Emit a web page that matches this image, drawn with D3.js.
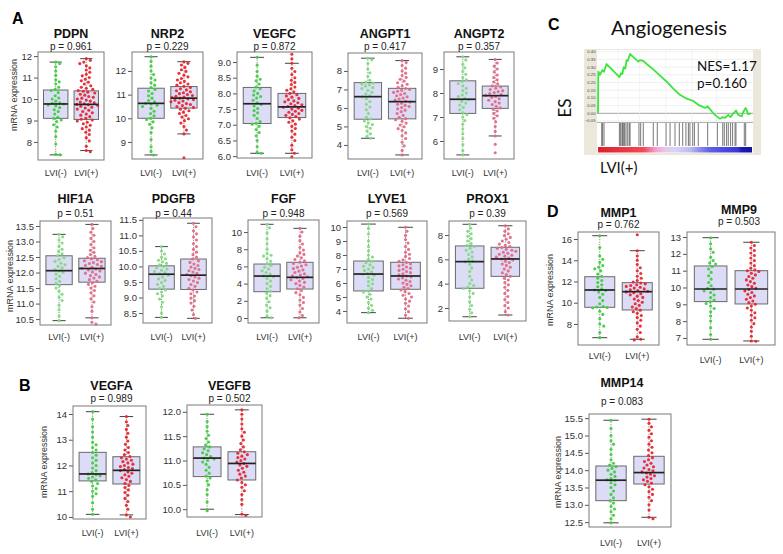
<!DOCTYPE html>
<html><head><meta charset="utf-8">
<script src="https://cdn.jsdelivr.net/npm/d3@7"></script>
<style>body{margin:0;background:#fff}svg{display:block}</style>
</head><body>
<svg id="c" width="783" height="554"></svg>
<script>
// ---------------- DATA ----------------
const genes = ["PDPN","NRP2","VEGFC","ANGPT1","ANGPT2","HIF1A","PDGFB","FGF","LYVE1","PROX1","VEGFA","VEGFB","MMP1","MMP9","MMP14"];
const pValues = ["0.961","0.229","0.872","0.417","0.357","0.51","0.44","0.948","0.569","0.39","0.989","0.502","0.762","0.503","0.083"];
const groupLabels = ["LVI(-)","LVI(+)"];
const yDomains = [[7.16,12.19],[8.28,12.80],[5.94,9.32],[3.24,8.97],[5.25,9.71],[10.31,13.66],[8.18,11.56],[-0.58,11.4],[3.14,10.43],[0.93,9.15],[9.92,14.31],[9.84,12.14],[6.02,16.66],[6.58,13.3],[12.36,15.62]];
const yTicks = [[8,9,10,11,12],[9,10,11,12],[6.0,6.5,7.0,7.5,8.0,8.5,9.0],[4,5,6,7,8],[6,7,8,9],[10.5,11.0,11.5,12.0,12.5,13.0,13.5],[8.5,9.0,9.5,10.0,10.5,11.0,11.5],[0,2,4,6,8,10],[4,5,6,7,8,9,10],[2,4,6,8],[10,11,12,13,14],[10.0,10.5,11.0,11.5,12.0],[8,10,12,14,16],[7,8,9,10,11,12,13],[12.5,13.0,13.5,14.0,14.5,15.0,15.5]];
const tickDecimals = [0,0,1,0,0,1,1,0,0,0,0,1,0,0,1];
// box stats: [lower whisker, Q1, median, Q3, upper whisker]
const boxNeg = [[7.4,9.1,9.77,10.42,11.72],[8.45,10.0,10.63,11.27,12.6],[6.09,7.04,7.67,8.19,9.15],[4.36,5.39,6.61,7.37,8.69],[5.42,7.15,7.74,8.51,9.51],[10.45,11.61,12.06,12.54,13.23],[8.36,9.27,9.75,10.02,10.64],[0.03,3.06,4.88,6.28,10.9],[3.88,5.43,6.64,7.57,10.21],[1.28,3.62,5.81,7.1,8.88],[10.1,11.4,11.67,12.51,14.09],[10.0,10.67,11.05,11.28,11.95],[6.71,9.57,11.2,12.45,16.31],[6.92,9.16,9.91,11.28,12.96],[12.48,13.12,13.71,14.12,15.44]];
const boxPos = [[7.6,9.05,9.75,10.38,11.88],[9.34,10.43,10.85,11.34,12.39],[6.09,7.23,7.57,8.0,8.96],[3.46,5.41,6.34,7.06,8.56],[6.21,7.36,7.89,8.29,9.4],[10.54,11.69,12.13,12.46,13.55],[8.33,9.26,9.72,10.24,11.39],[0.03,3.37,4.73,6.48,10.43],[3.48,5.55,6.5,7.48,9.98],[1.42,4.6,6.03,6.99,8.76],[10.08,11.28,11.81,12.34,13.9],[9.89,10.6,10.94,11.18,12.04],[6.56,9.32,11.04,11.89,14.9],[6.82,9.02,9.91,11.0,12.69],[12.64,13.6,13.93,14.4,15.47]];
const ptsNeg = [
[7.4,7.42,7.9,8.25,8.5,8.7,8.8,8.95,9.02,9.1,9.15,9.3,9.42,9.5,9.6,9.68,9.72,9.77,9.8,9.82,9.9,10.0,10.05,10.15,10.3,10.4,10.45,10.55,10.7,10.8,10.9,11.1,11.3,11.5,11.65,11.72],
[8.45,8.6,8.8,9.1,9.4,9.6,9.75,9.85,9.95,10.0,10.1,10.2,10.3,10.42,10.5,10.55,10.6,10.63,10.7,10.75,10.85,10.95,11.05,11.15,11.22,11.3,11.4,11.5,11.62,11.7,11.85,12.0,12.2,12.4,12.6],
[6.09,6.12,6.3,6.5,6.65,6.75,6.85,6.95,7.02,7.05,7.1,7.2,7.3,7.38,7.45,7.52,7.6,7.65,7.7,7.78,7.85,7.9,7.95,8.0,8.08,8.15,8.2,8.3,8.4,8.45,8.55,8.7,8.9,9.15],
[4.36,4.45,4.6,4.75,4.9,5.0,5.1,5.2,5.3,5.4,5.5,5.7,5.9,6.05,6.2,6.35,6.5,6.6,6.65,6.75,6.85,6.95,7.05,7.1,7.18,7.25,7.3,7.35,7.4,7.5,7.7,7.9,8.1,8.4,8.6,8.69],
[5.42,5.6,5.85,6.1,6.3,6.5,6.7,6.85,7.0,7.1,7.18,7.3,7.4,7.5,7.58,7.65,7.72,7.78,7.85,7.92,8.0,8.1,8.2,8.3,8.4,8.48,8.55,8.65,8.78,8.9,9.05,9.2,9.38,9.51],
[10.45,10.6,10.8,10.95,11.1,11.2,11.3,11.4,11.5,11.58,11.65,11.72,11.8,11.88,11.95,12.0,12.05,12.1,12.15,12.2,12.25,12.3,12.36,12.42,12.48,12.55,12.6,12.68,12.75,12.85,12.95,13.05,13.15,13.23],
[8.36,8.5,8.7,8.85,8.95,9.05,9.12,9.18,9.24,9.3,9.36,9.42,9.48,9.55,9.6,9.66,9.72,9.76,9.8,9.84,9.88,9.92,9.96,10.0,10.05,10.1,10.15,10.2,10.25,10.3,10.4,10.5,10.64],
[0.03,0.2,0.8,1.2,1.5,1.9,2.3,2.6,2.9,3.1,3.4,3.7,4.0,4.3,4.6,4.8,4.9,5.1,5.3,5.5,5.7,5.9,6.1,6.3,6.6,6.9,7.2,7.3,7.5,8.0,8.6,9.2,9.9,10.5,10.9],
[3.88,4.05,4.2,4.4,4.6,4.85,5.0,5.2,5.35,5.45,5.6,5.8,5.95,6.1,6.25,6.4,6.55,6.62,6.7,6.8,6.9,7.0,7.1,7.2,7.3,7.45,7.55,7.7,7.85,8.0,8.3,8.6,9.0,9.5,9.9,10.21],
[1.28,1.6,1.9,2.2,2.5,2.9,3.2,3.4,3.6,3.7,3.85,4.0,4.3,4.6,5.0,5.3,5.6,5.8,5.85,6.0,6.2,6.4,6.6,6.75,6.9,7.05,7.15,7.3,7.5,7.7,7.9,8.1,8.3,8.55,8.88],
[10.1,10.3,10.55,10.8,10.9,11.0,11.1,11.2,11.3,11.38,11.44,11.5,11.55,11.6,11.64,11.67,11.72,11.8,11.9,12.0,12.1,12.2,12.3,12.4,12.5,12.6,12.7,12.8,12.9,13.1,13.3,13.5,13.8,14.09],
[9.97,10.15,10.3,10.4,10.5,10.58,10.64,10.68,10.74,10.8,10.86,10.92,10.97,11.0,11.03,11.05,11.08,11.12,11.16,11.2,11.24,11.28,11.32,11.38,11.45,11.52,11.6,11.7,11.8,11.95],
[6.71,7.2,7.8,8.0,8.5,8.9,9.2,9.5,9.55,9.6,9.65,9.9,10.2,10.5,10.8,11.0,11.15,11.2,11.3,11.5,11.7,11.9,12.1,12.3,12.5,12.7,13.0,13.2,13.35,13.5,13.8,14.1,14.4,15.2,16.31],
[6.92,7.2,7.6,8.0,8.3,8.55,8.75,8.9,9.05,9.15,9.25,9.4,9.55,9.7,9.8,9.9,9.95,10.1,10.3,10.5,10.7,10.9,11.1,11.25,11.4,11.45,11.6,11.8,12.1,12.3,12.6,12.96],
[12.48,12.6,12.7,12.8,12.88,12.95,13.05,13.12,13.2,13.3,13.4,13.5,13.58,13.64,13.7,13.72,13.76,13.82,13.88,13.95,14.0,14.05,14.1,14.15,14.2,14.3,14.45,14.6,14.75,14.85,15.0,15.2,15.44]
];
const ptsPos = [
[7.55,7.6,7.8,8.05,8.2,8.35,8.45,8.55,8.62,8.7,8.78,8.85,8.92,8.98,9.02,9.06,9.1,9.18,9.25,9.3,9.36,9.42,9.48,9.53,9.58,9.62,9.66,9.7,9.73,9.75,9.78,9.82,9.86,9.9,9.95,10.0,10.04,10.08,10.12,10.18,10.22,10.28,10.32,10.36,10.4,10.45,10.5,10.55,10.62,10.7,10.78,10.85,10.92,11.0,11.08,11.15,11.25,11.35,11.45,11.55,11.65,11.72,11.8,11.88],
[8.33,9.34,9.5,9.65,9.8,9.9,9.98,10.05,10.12,10.2,10.26,10.32,10.38,10.42,10.46,10.5,10.54,10.58,10.62,10.66,10.7,10.73,10.76,10.79,10.82,10.85,10.88,10.9,10.93,10.96,11.0,11.04,11.08,11.12,11.16,11.2,11.25,11.3,11.35,11.4,11.45,11.5,11.56,11.62,11.68,11.75,11.82,11.9,11.98,12.05,12.15,12.25,12.32,12.39],
[5.98,6.09,6.2,6.35,6.5,6.6,6.7,6.8,6.88,6.95,7.02,7.08,7.13,7.18,7.22,7.26,7.3,7.33,7.36,7.4,7.43,7.46,7.5,7.53,7.56,7.58,7.61,7.64,7.67,7.7,7.73,7.76,7.8,7.84,7.88,7.92,7.96,8.0,8.05,8.1,8.15,8.2,8.28,8.35,8.42,8.5,8.6,8.7,8.8,8.96,9.1,9.25],
[3.46,3.7,3.95,4.15,4.35,4.5,4.65,4.78,4.88,4.98,5.08,5.18,5.28,5.36,5.42,5.5,5.6,5.7,5.8,5.88,5.95,6.02,6.08,6.14,6.2,6.26,6.32,6.36,6.42,6.48,6.54,6.6,6.66,6.72,6.78,6.84,6.9,6.95,7.0,7.05,7.12,7.2,7.28,7.36,7.45,7.55,7.65,7.75,7.88,8.0,8.15,8.3,8.45,8.56],
[5.51,5.86,6.21,6.4,6.6,6.8,6.95,7.05,7.15,7.25,7.32,7.38,7.45,7.52,7.58,7.64,7.7,7.76,7.82,7.86,7.9,7.94,7.98,8.02,8.06,8.1,8.15,8.2,8.25,8.3,8.38,8.46,8.55,8.65,8.75,8.88,9.0,9.12,9.25,9.4],
[10.34,10.4,10.54,10.75,10.9,11.05,11.15,11.25,11.35,11.42,11.5,11.56,11.62,11.67,11.72,11.77,11.82,11.86,11.9,11.94,11.98,12.02,12.05,12.08,12.11,12.14,12.17,12.2,12.23,12.26,12.29,12.32,12.35,12.38,12.41,12.44,12.48,12.52,12.58,12.65,12.72,12.8,12.9,13.0,13.1,13.2,13.3,13.42,13.55],
[8.33,8.45,8.6,8.72,8.82,8.9,8.98,9.05,9.12,9.18,9.24,9.3,9.36,9.42,9.48,9.53,9.58,9.62,9.66,9.7,9.74,9.78,9.82,9.86,9.9,9.94,9.98,10.03,10.08,10.13,10.18,10.24,10.3,10.38,10.46,10.55,10.64,10.74,10.85,10.95,11.05,11.15,11.28,11.39],
[0.03,0.3,0.7,1.1,1.5,1.8,2.1,2.4,2.7,2.95,3.2,3.4,3.6,3.8,4.0,4.15,4.3,4.45,4.6,4.7,4.8,4.9,5.0,5.15,5.3,5.45,5.6,5.75,5.9,6.05,6.2,6.35,6.5,6.65,6.8,7.0,7.2,7.4,7.6,7.9,8.2,8.6,9.0,9.5,10.0,10.43],
[3.48,3.7,3.95,4.15,4.35,4.55,4.7,4.85,5.0,5.12,5.25,5.38,5.5,5.6,5.7,5.8,5.9,6.0,6.1,6.2,6.28,6.36,6.44,6.5,6.58,6.66,6.74,6.82,6.9,6.98,7.06,7.14,7.22,7.3,7.38,7.46,7.55,7.65,7.75,7.9,8.05,8.2,8.4,8.6,8.85,9.1,9.4,9.7,9.98],
[1.42,1.7,2.0,2.2,2.45,2.7,2.95,3.2,3.45,3.7,3.9,4.1,4.3,4.45,4.6,4.75,4.9,5.05,5.2,5.35,5.5,5.62,5.74,5.85,5.95,6.03,6.1,6.18,6.26,6.34,6.42,6.5,6.58,6.66,6.74,6.82,6.9,6.97,7.05,7.15,7.25,7.38,7.5,7.65,7.8,7.95,8.1,8.3,8.5,8.76],
[10.0,10.08,10.3,10.45,10.6,10.72,10.84,10.95,11.05,11.14,11.22,11.3,11.38,11.45,11.52,11.58,11.64,11.7,11.75,11.8,11.84,11.88,11.92,11.96,12.0,12.05,12.1,12.15,12.2,12.25,12.3,12.35,12.42,12.5,12.6,12.7,12.82,12.95,13.1,13.25,13.4,13.55,13.7,13.9],
[9.87,9.9,10.1,10.2,10.3,10.38,10.45,10.5,10.55,10.6,10.64,10.68,10.72,10.76,10.8,10.84,10.88,10.91,10.94,10.97,11.0,11.03,11.06,11.09,11.12,11.15,11.18,11.22,11.28,11.35,11.42,11.5,11.58,11.65,11.75,11.85,11.95,12.04],
[6.5,6.56,6.8,7.2,7.5,7.8,8.1,8.35,8.6,8.8,9.0,9.15,9.3,9.45,9.6,9.75,9.9,10.05,10.2,10.35,10.5,10.62,10.74,10.85,10.95,11.02,11.08,11.15,11.22,11.3,11.38,11.46,11.54,11.62,11.7,11.78,11.86,11.95,12.1,12.3,12.5,12.75,13.0,13.3,13.6,14.0,14.4,14.9,16.4],
[6.8,6.82,7.1,7.4,7.65,7.85,8.05,8.2,8.35,8.5,8.65,8.78,8.9,9.0,9.1,9.2,9.3,9.4,9.5,9.6,9.7,9.8,9.88,9.95,10.05,10.15,10.25,10.35,10.45,10.55,10.65,10.75,10.85,10.95,11.0,11.05,11.15,11.3,11.45,11.6,11.75,11.9,12.05,12.2,12.35,12.5,12.69],
[12.6,12.64,12.85,13.0,13.12,13.22,13.3,13.38,13.45,13.52,13.58,13.63,13.68,13.72,13.76,13.8,13.84,13.88,13.92,13.95,13.98,14.02,14.06,14.1,14.15,14.2,14.25,14.3,14.36,14.42,14.5,14.58,14.66,14.75,14.85,14.95,15.05,15.15,15.25,15.35,15.47]
];
// GSEA panel C
const gseaTitle = "Angiogenesis";
const gseaNES = "NES=1.17";
const gseaP = "p=0.160";
const esTicks = [0.40,0.35,0.30,0.25,0.20,0.15,0.10,0.05,0.00,-0.05];
const esRank = [0,0.2,1.3,2.8,3.9,5.6,13.9,14.9,15.8,16.7,17.7,18.6,19.3,20.8,22.9,26.2,27.3,29.4,31.6,35.9,40.3,44.6,48.9,53.2,57.6,61.9,65.1,69.5,71.2,74.9,77.1,79.2,81,82.5,84.6,86.1,87.9,89.6,91.1,93.3,94.4,95.9,97.6,99.4];
const esValue = [0.0,0.27,0.25,0.28,0.27,0.32,0.235,0.26,0.255,0.30,0.29,0.345,0.34,0.385,0.365,0.335,0.345,0.34,0.32,0.285,0.245,0.205,0.16,0.12,0.095,0.08,0.055,0.035,0.045,0.0,-0.02,-0.035,-0.025,-0.03,-0.01,-0.025,0.0,0.018,-0.01,-0.02,0.01,0.035,-0.005,0.0];
const hitRanks = [2.4,3.0,3.9,13.9,14.7,15.6,16.0,16.7,17.3,18.2,19.3,20.3,20.8,26.6,27.7,29.4,35.9,38.5,44.2,46.8,50,52.8,55,57.1,58.7,59.7,61.5,62.6,65.1,71.2,77.5,81,82,83.5,84.6,86.1,87.4,89,89.6,95,95.9];

// ---------------- LAYOUT ----------------
const F = '"Liberation Sans", Arial, Helvetica, sans-serif';
const FC = 'Lato, "Open Sans", sans-serif';
const svg = d3.select('#c');
svg.append('rect').attr('width',783).attr('height',554).attr('fill','#fff');

const L = [
 {f:[38,104,52,160], t:38, p:50, xl:176, ylab:[15,95], soft:0, tx:0},
 {f:[132,203,52,159], t:38, p:50, xl:176, soft:0, tx:0},
 {f:[237,312,52,158], t:38, p:50, xl:176, soft:0, tx:0},
 {f:[348,422,53,159], t:38, p:50, xl:176, soft:1, tx:0},
 {f:[444,514,52,159], t:38, p:50, xl:176, soft:1, tx:0},
 {f:[40,111,221,325], t:203, p:217, xl:340, ylab:[11,276], soft:1, tx:0},
 {f:[143,212,218,323], t:203, p:217, xl:340, soft:1, tx:-4},
 {f:[248,319,220,323], t:203, p:217, xl:340, soft:1, tx:0},
 {f:[347,427,221,323], t:203, p:217, xl:340, soft:1, tx:0},
 {f:[449,526,221,321], t:203, p:217, xl:340, soft:1, tx:0},
 {f:[73,146,406,519], t:390, p:402, xl:536, ylab:[45,462], soft:0, tx:2},
 {f:[187,262,405,517], t:390, p:402, xl:536, soft:0, tx:5},
 {f:[578,659,232,345], t:217, p:228, xl:359, ylab:[551,290], soft:0, tx:0},
 {f:[687,775,232,345], t:214, p:225, xl:363, soft:0, tx:8},
 {f:[589,671,414,527], t:387, p:405, xl:546, ylab:[559,472], soft:0, tx:-8}
];

const R = 1.55;
function swarm(vals, cx, y, r){
  const pts = vals.map(v=>({v, py:y(v)})).sort((a,b)=>a.py-b.py);
  const placed = [];
  const d = 2*r + 1.0;
  pts.forEach(p=>{
    let off = 0;
    for(let k=0;k<300;k++){
      const cand = k===0?0:(k%2===1? (Math.ceil(k/2))*0.5 : -(k/2)*0.5);
      let ok = true;
      for(const q of placed){
        const dy = q.py-p.py; if(Math.abs(dy)>=d) continue;
        const dx = q.dx-cand;
        if(dx*dx+dy*dy < d*d){ok=false;break;}
      }
      if(ok){off=cand;break;}
    }
    p.dx=off; placed.push(p);
  });
  return placed.map(p=>({x:cx+p.dx, y:p.py}));
}

genes.forEach((gname,i)=>{
  const lay = L[i];
  const [x0,x1,y0,y1] = lay.f;
  const g = svg.append('g');
  const x = d3.scaleLinear().domain([0.42,2.58]).range([x0,x1]);
  const y = d3.scaleLinear().domain(yDomains[i]).range([y1,y0]);
  const cols = lay.soft ? ['#7edb7e','#e36a86'] : ['#3fcf3f','#e8262e'];
  const fmt = d3.format(tickDecimals[i] ? '.1f' : 'd');
  const ax = g.append('g').attr('transform',`translate(${x0},0)`)
    .call(d3.axisLeft(y).tickValues(yTicks[i]).tickSize(4).tickPadding(2).tickFormat(fmt));
  ax.select('.domain').remove();
  ax.selectAll('line').attr('stroke','#555');
  ax.selectAll('text').attr('font-family',F).attr('font-size',9.5).attr('fill','#333');

  [boxNeg[i], boxPos[i]].forEach((b,k)=>{
    const c = k+1;
    g.append('line').attr('x1',x(c)).attr('x2',x(c)).attr('y1',y(b[0])).attr('y2',y(b[4]))
      .attr('stroke','#8a8a8a').attr('stroke-dasharray','1.2,1.3');
    [b[0],b[4]].forEach(v=>g.append('line').attr('x1',x(c-0.2)).attr('x2',x(c+0.2)).attr('y1',y(v)).attr('y2',y(v)).attr('stroke','#444').attr('stroke-width',1));
    g.append('rect').attr('x',x(c-0.4)).attr('width',x(c+0.4)-x(c-0.4)).attr('y',y(b[3])).attr('height',y(b[1])-y(b[3]))
      .attr('fill','#dcdcf6').attr('stroke','#6a6a6a').attr('stroke-width',1);
  });
  [ptsNeg[i], ptsPos[i]].forEach((vals,k)=>{
    const pos = swarm(vals, x(k+1), y, R);
    g.selectAll(null).data(pos).enter().append('circle')
      .attr('cx',d=>d.x).attr('cy',d=>d.y).attr('r',R).attr('fill',cols[k]).attr('fill-opacity',0.95);
  });
  [boxNeg[i], boxPos[i]].forEach((b,k)=>{
    const c=k+1;
    g.append('line').attr('x1',x(c-0.4)).attr('x2',x(c+0.4)).attr('y1',y(b[2])).attr('y2',y(b[2])).attr('stroke','#222').attr('stroke-width',1.7);
  });
  g.append('rect').attr('x',x0).attr('y',y0).attr('width',x1-x0).attr('height',y1-y0).attr('fill','none').attr('stroke','#7a7a7a').attr('stroke-width',1);

  const cx = (x0+x1)/2 + lay.tx;
  g.append('text').attr('x',cx).attr('y',lay.t).attr('text-anchor','middle').attr('font-family',F).attr('font-weight','bold').attr('font-size',12.5).attr('fill','#111').text(gname);
  g.append('text').attr('x',cx).attr('y',lay.p).attr('text-anchor','middle').attr('font-family',F).attr('font-size',10).attr('fill','#222').text('p = ' + pValues[i]);
  groupLabels.forEach((lab,k)=>g.append('text').attr('x',x(k+1)).attr('y',lay.xl).attr('text-anchor','middle').attr('font-family',F).attr('font-size',9).attr('fill','#333').text(lab));
  if(lay.ylab){
    g.append('text').attr('transform',`translate(${lay.ylab[0]},${lay.ylab[1]}) rotate(-90)`).attr('text-anchor','middle').attr('dominant-baseline','middle')
      .attr('font-family',F).attr('font-size',9).attr('fill','#333').text('mRNA expression');
  }
});

// panel letters
[['A',12,24],['B',19,391],['C',548,30],['D',547,217]].forEach(([t,px,py])=>
  svg.append('text').attr('x',px).attr('y',py).attr('font-family',F).attr('font-weight','bold').attr('font-size',16).attr('fill','#000').text(t));

// ---------------- PANEL C (GSEA) ----------------
(function(){
  const g = svg.append('g');
  const xr = d3.scaleLinear().domain([0,100]).range([598,752]);
  const ye = d3.scaleLinear().domain([-0.0565,0.411]).range([122,50]);
  g.append('rect').attr('x',584).attr('y',49).attr('width',177).attr('height',106).attr('fill','#ebe7da');
  g.append('rect').attr('x',597).attr('y',50).attr('width',156).attr('height',103).attr('fill','#fff');
  esTicks.forEach(t=>{
    g.append('line').attr('x1',597).attr('x2',753).attr('y1',ye(t)).attr('y2',ye(t)).attr('stroke', t===0?'#9a9a9a':'#e6e6e6').attr('stroke-width',t===0?0.9:0.6);
    g.append('text').attr('x',595.5).attr('y',ye(t)+1.5).attr('text-anchor','end').attr('font-family',F).attr('font-size',4.2).attr('fill','#444').text(d3.format('.2f')(t));
  });
  [13,27,44,61,77].forEach(v=>g.append('line').attr('x1',xr(v)).attr('x2',xr(v)).attr('y1',50).attr('y2',122).attr('stroke','#eeeeee').attr('stroke-width',0.6));
  g.append('line').attr('x1',597).attr('x2',753).attr('y1',122.5).attr('y2',122.5).attr('stroke','#9a9a9a').attr('stroke-width',0.8);
  g.selectAll(null).data(hitRanks).enter().append('line')
    .attr('x1',d=>xr(d)).attr('x2',d=>xr(d)).attr('y1',123).attr('y2',146).attr('stroke','#555').attr('stroke-width',0.8);
  const defs = svg.append('defs');
  const grad = defs.append('linearGradient').attr('id','rb').attr('x1','0%').attr('x2','100%');
  [[0,'#dd1f2e'],[10,'#e42c3c'],[30,'#f04c5c'],[34,'#f27a9e'],[38,'#f0a6d6'],[44,'#e6c8ee'],[50,'#d6d4f6'],[60,'#bcbaf2'],[66,'#8c8cec'],[72,'#6464e6'],[82,'#4a48e0'],[91,'#3a36d6'],[93,'#1c1ab8'],[100,'#16149e']]
    .forEach(([o,c])=>grad.append('stop').attr('offset',o+'%').attr('stop-color',c));
  g.append('rect').attr('x',xr(0)).attr('y',147).attr('width',xr(100)-xr(0)).attr('height',5.5).attr('fill','url(#rb)');
  const line = d3.line().x((d,j)=>xr(esRank[j])).y(d=>ye(d));
  g.append('path').datum(esValue).attr('d',line).attr('fill','none').attr('stroke','#3ae63a').attr('stroke-width',1.8).attr('stroke-linejoin','round');
  g.append('text').attr('x',669).attr('y',35).attr('text-anchor','middle').attr('font-family',FC).attr('font-size',20).attr('fill','#111').text(gseaTitle);
  g.append('text').attr('x',697).attr('y',71).attr('font-family',FC).attr('font-size',13.5).attr('fill','#111').text(gseaNES);
  g.append('text').attr('x',697).attr('y',88).attr('font-family',FC).attr('font-size',13.5).attr('fill','#111').text(gseaP);
  g.append('text').attr('transform','translate(571,108) rotate(-90)').attr('text-anchor','middle').attr('font-family',FC).attr('font-size',17).attr('fill','#111').text('ES');
  g.append('text').attr('x',600).attr('y',173).attr('font-family',FC).attr('font-size',15).attr('fill','#111').text('LVI(+)');
})();
</script>
</body></html>
